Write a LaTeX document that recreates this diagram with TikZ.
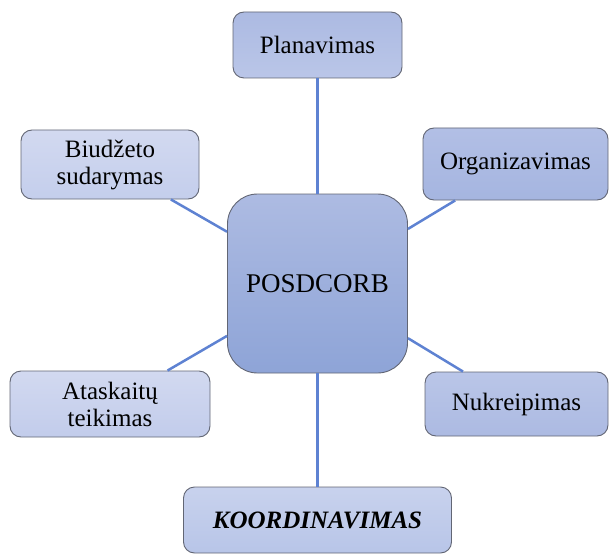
\documentclass[tikz,border=0pt]{standalone}
\usepackage{fontspec}
\setmainfont{LiberationSerif}[Extension=.ttf,
  UprightFont=*-Regular, BoldFont=*-Bold,
  ItalicFont=*-Italic, BoldItalicFont=*-BoldItalic]
\begin{document}
\begin{tikzpicture}[x=1pt,y=-1pt,
  box/.style={draw={rgb,255:red,98;green,102;blue,116}, line width=0.9pt,
    rounded corners=11pt, inner sep=0pt, align=center,
    font=\rmfamily\fontsize{25}{27}\selectfont},
  hub/.style={box, rounded corners=30pt, font=\rmfamily\fontsize{27}{29}\selectfont},
  link/.style={draw={rgb,255:red,94;green,130;blue,210}, line width=2.5pt}]
\useasboundingbox (0,0) rectangle (615,556);

% centre of the diagram
\node[hub, minimum width=180pt, minimum height=179pt,
  top color={rgb,255:red,173;green,187;blue,226},
  bottom color={rgb,255:red,142;green,164;blue,215}] (hub) at (317.5,283.5) {POSDCORB};

% surrounding functions
\node[box, minimum width=169pt, minimum height=66pt,
  top color={rgb,255:red,172;green,186;blue,226},
  bottom color={rgb,255:red,186;green,198;blue,232}] (plan) at (317.5,45) {Planavimas};
\node[box, minimum width=178pt, minimum height=69pt,
  top color={rgb,255:red,210;green,217;blue,240},
  bottom color={rgb,255:red,196;green,206;blue,236}] (budget) at (110,164.5) {Biudžeto\\sudarymas};
\node[box, minimum width=185pt, minimum height=72pt,
  top color={rgb,255:red,178;green,191;blue,229},
  bottom color={rgb,255:red,165;green,181;blue,224}] (org) at (515.5,164) {Organizavimas};
\node[box, minimum width=200pt, minimum height=66pt,
  top color={rgb,255:red,210;green,217;blue,240},
  bottom color={rgb,255:red,194;green,204;blue,235}] (report) at (110,404) {Ataskaitų\\teikimas};
\node[box, minimum width=183pt, minimum height=64pt,
  top color={rgb,255:red,186;green,198;blue,232},
  bottom color={rgb,255:red,172;green,186;blue,226}] (direct) at (516.5,404) {Nukreipimas};
\node[box, minimum width=268pt, minimum height=66pt,
  top color={rgb,255:red,200;green,210;blue,237},
  bottom color={rgb,255:red,184;green,197;blue,232},
  font=\rmfamily\fontsize{25}{27}\selectfont\bfseries\itshape] (coord) at (317.5,520) {KOORDINAVIMAS};

% connectors
\draw[link] (hub) -- (plan);
\draw[link] (hub) -- (budget);
\draw[link] (hub) -- (org);
\draw[link] (hub) -- (report);
\draw[link] (hub) -- (direct);
\draw[link] (hub) -- (coord);
\end{tikzpicture}
\end{document}
